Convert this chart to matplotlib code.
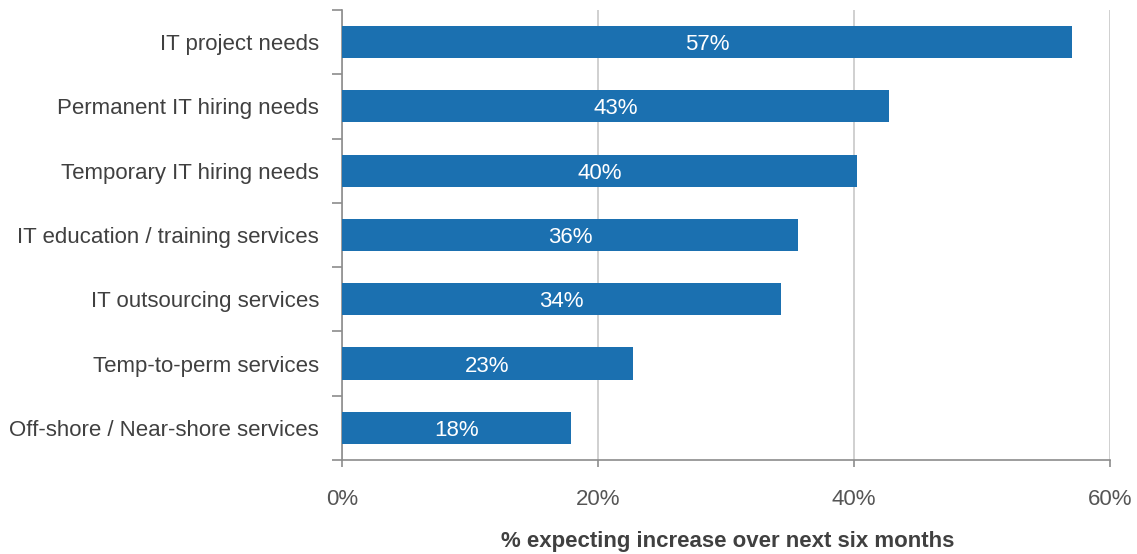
import matplotlib.pyplot as plt
import numpy as np
from matplotlib.ticker import FixedLocator

categories = [
    'IT project needs',
    'Permanent IT hiring needs',
    'Temporary IT hiring needs',
    'IT education / training services',
    'IT outsourcing services',
    'Temp-to-perm services',
    'Off-shore / Near-shore services',
]
values = [57.0, 42.7, 40.2, 35.6, 34.3, 22.7, 17.9]
labels = ['57%', '43%', '40%', '36%', '34%', '23%', '18%']
xticks = [0, 20, 40, 60]
xlabel = '% expecting increase over next six months'

plt.rcParams['font.family'] = ['Liberation Sans', 'DejaVu Sans']
text_col = '#404040'
bar_col = '#1b70b0'

fig = plt.figure(figsize=(11.37, 5.54), dpi=100)
ax = fig.add_axes([0.3008, 0.1697, 0.6755, 0.8123])

y = np.arange(len(categories))
ax.barh(y, values, height=0.5, color=bar_col, zorder=3)
for yi, v, lab in zip(y, values, labels):
    ax.text(v / 2, yi, lab, ha='center', va='center_baseline', color='white', fontsize=16, zorder=4)

ax.set_xlim(0, 60)
ax.set_ylim(len(categories) - 0.5, -0.5)
ax.set_yticks(y)
ax.set_yticklabels(categories, fontsize=16, color=text_col)
ax.yaxis.set_minor_locator(FixedLocator(np.arange(-0.5, len(categories), 1)))
ax.tick_params(axis='y', which='major', length=0, pad=16.5)
ax.tick_params(axis='y', which='minor', length=7, color='#8c8c8c', width=1.2)

ax.set_xticks(xticks)
ax.set_xticklabels([f'{t}%' for t in xticks], fontsize=16, color='#555555')
ax.tick_params(axis='x', length=5, color='#8c8c8c', width=1.2, pad=16)
ax.grid(axis='x', color='#c8c8c8', linewidth=1.2, zorder=0)

for s in ['top', 'right']:
    ax.spines[s].set_visible(False)
for s in ['left', 'bottom']:
    ax.spines[s].set_color('#8c8c8c')
    ax.spines[s].set_linewidth(1.2)

fig.text(728 / 1137, 2 / 554, xlabel, ha='center', va='bottom', fontsize=16,
         fontweight='bold', color=text_col)

fig.savefig('out.png', dpi=100)
